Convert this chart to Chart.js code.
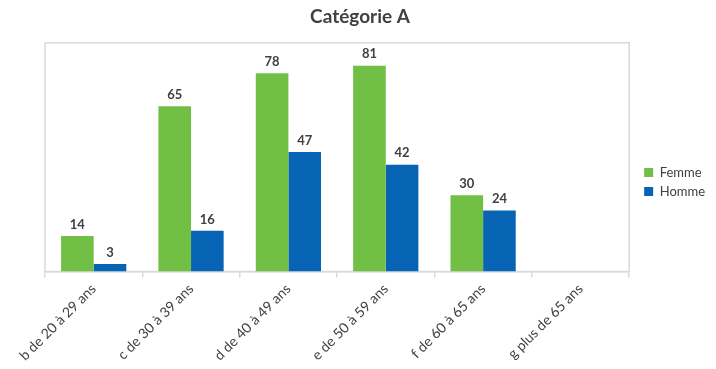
<!DOCTYPE html>
<html>
<head>
<meta charset="utf-8">
<script src="https://cdn.jsdelivr.net/npm/chart.js@4/dist/chart.umd.min.js"></script>
<style>
html,body{margin:0;padding:0;background:#fff;}
#wrap{width:716px;height:369px;}
</style>
</head>
<body>
<div id="wrap"><canvas id="c" width="716" height="369"></canvas></div>
<script>
const categories = ["b de 20 à 29 ans","c de 30 à 39 ans","d de 40 à 49 ans","e de 50 à 59 ans","f de 60 à 65 ans","g plus de 65 ans"];
const femme = [14, 65, 78, 81, 30, null];
const homme = [3, 16, 47, 42, 24, null];
const seriesNames = ["Femme", "Homme"];
const yMin = 0, yMax = 90;

const FONT = "Lato, 'Open Sans', sans-serif";
const TEXT = "#404040";
const FRAME = "#d9d9d9";

const framePlugin = {
  id: 'frame',
  beforeDatasetsDraw(chart) {
    const {ctx, chartArea: a} = chart;
    ctx.save();
    ctx.strokeStyle = FRAME;
    ctx.lineWidth = 1.5;
    ctx.strokeRect(a.left, a.top, a.right - a.left, a.bottom - a.top);
    ctx.restore();
  }
};

const legendShift = {
  id: 'legendShift',
  afterLayout(chart) {
    if (chart.legend) {
      chart.legend.left += 9;
      chart.legend.right += 9;
      chart.legend.top -= 3;
      chart.legend.bottom -= 3;
    }
  }
};

const labelPlugin = {
  id: 'vlabels',
  afterDatasetsDraw(chart) {
    const {ctx} = chart;
    ctx.save();
    ctx.font = "bold 13px " + FONT;
    ctx.fillStyle = TEXT;
    ctx.textAlign = 'center';
    ctx.textBaseline = 'bottom';
    chart.data.datasets.forEach((ds, i) => {
      const meta = chart.getDatasetMeta(i);
      meta.data.forEach((el, j) => {
        const v = ds.data[j];
        if (v === null || v === undefined) return;
        ctx.fillText(String(v), el.x, el.y - 5);
      });
    });
    ctx.restore();
  }
};

new Chart(document.getElementById('c'), {
  type: 'bar',
  data: {
    labels: categories,
    datasets: [
      {label: seriesNames[0], data: femme, backgroundColor: '#71bf44', borderWidth: 0},
      {label: seriesNames[1], data: homme, backgroundColor: '#0764b5', borderWidth: 0}
    ]
  },
  options: {
    responsive: false,
    animation: false,
    devicePixelRatio: 1,
    layout: {padding: {left: 14, right: 10, top: 3, bottom: 2}},
    datasets: {bar: {categoryPercentage: 0.67, barPercentage: 1.0}},
    plugins: {
      title: {
        display: true, text: 'Catégorie A', color: TEXT,
        font: {family: FONT, size: 19, weight: 'bold'},
        padding: {top: 2, bottom: 15}
      },
      legend: {
        position: 'right', align: 'center',
        labels: {
          boxWidth: 9, boxHeight: 9, padding: 6, color: TEXT,
          font: {family: FONT, size: 13}
        }
      },
      tooltip: {enabled: false}
    },
    scales: {
      x: {
        grid: {display: true, drawOnChartArea: false, drawTicks: true, tickLength: 6, color: FRAME, lineWidth: 1.5, offset: true},
        border: {display: true, color: FRAME, width: 1.5},
        ticks: {color: TEXT, font: {family: FONT, size: 14}, minRotation: 45, maxRotation: 45, padding: 3}
      },
      y: {
        display: true, min: yMin, max: yMax,
        grid: {display: false},
        border: {display: false},
        ticks: {display: false},
        afterFit(scale) { scale.width = 31; }
      }
    }
  },
  plugins: [framePlugin, legendShift, labelPlugin]
});
</script>
</body>
</html>
